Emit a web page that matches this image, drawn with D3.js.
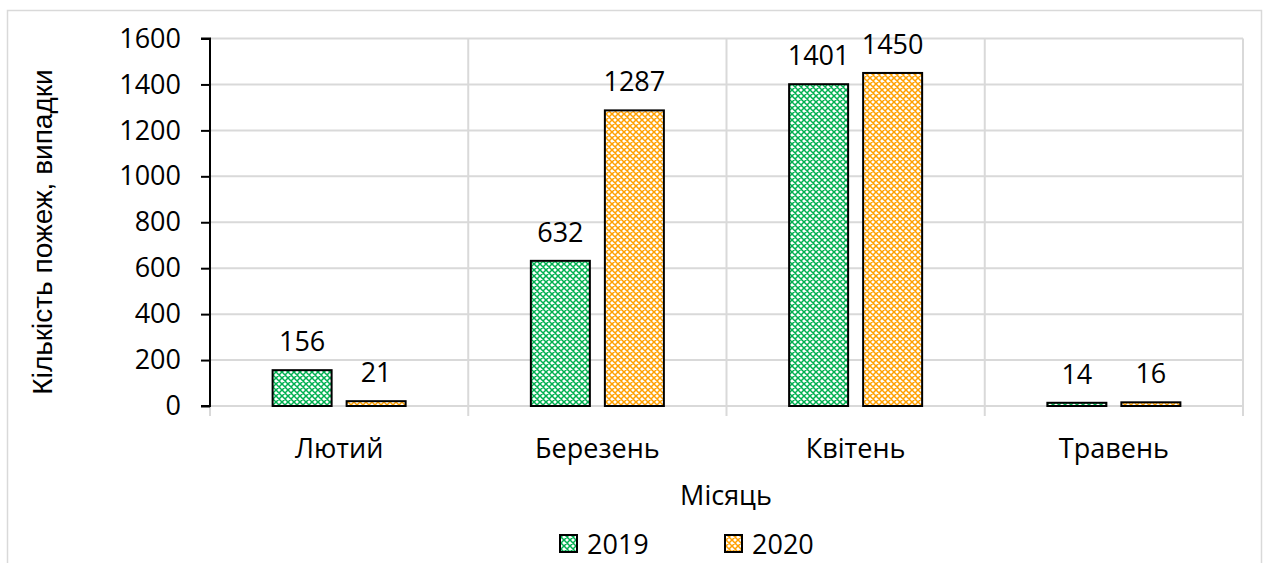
<!DOCTYPE html>
<html>
<head>
<meta charset="utf-8">
<script src="https://cdn.jsdelivr.net/npm/d3@7"></script>
<style>
  body { margin: 0; background: #fff; }
  text { font-family: "Open Sans", sans-serif; fill: #000; }
</style>
</head>
<body>
<script>
const months = ["Лютий", "Березень", "Квітень", "Травень"];
const years = ["2019", "2020"];
const fires2019 = [156, 632, 1401, 14];
const fires2020 = [21, 1287, 1450, 16];
const yTicks = [0, 200, 400, 600, 800, 1000, 1200, 1400, 1600];

const width = 1264, height = 563;
const plotLeft = 210, plotRight = 1243, plotTop = 38.5, plotBottom = 406;
const colors = {"2019": "#00b050", "2020": "#ffa000"};

var svg = d3.select("body")
            .append("svg")
            .attr("width", width)
            .attr("height", height);

// hatch patterns
var defs = svg.append("defs");
years.forEach((y) => {
    let p = defs.append("pattern")
        .attr("id", "pat" + y)
        .attr("patternUnits", "userSpaceOnUse")
        .attr("width", 6)
        .attr("height", 6);
    p.append("rect").attr("width", 6).attr("height", 6).attr("fill", "#fff");
    p.append("path")
        .attr("d", "M0,0 L6,6 M6,0 L0,6 M-1,5 L1,7 M5,-1 L7,1 M-1,1 L1,-1 M5,7 L7,5")
        .attr("stroke", colors[y])
        .attr("stroke-width", 1.5);
});

// chart border
svg.append("rect")
   .attr("x", 7.5).attr("y", 10.5)
   .attr("width", 1254).attr("height", 560)
   .attr("fill", "none")
   .attr("stroke", "#d9d9d9")
   .attr("stroke-width", 1.5);

var xScale = d3.scaleBand()
            .domain(months)
            .range([plotLeft, plotRight]);

var inner = d3.scaleBand()
            .domain(years)
            .range([0, xScale.bandwidth()])
            .paddingInner(0.2027)
            .paddingOuter(0.846);

var yScale = d3.scaleLinear()
            .domain([0, 1600])
            .range([plotBottom, plotTop]);

// horizontal gridlines
svg.append("g")
   .selectAll("line")
   .data(yTicks.slice(1))
   .enter()
   .append("line")
   .attr("x1", plotLeft).attr("x2", plotRight)
   .attr("y1", (d) => yScale(d)).attr("y2", (d) => yScale(d))
   .style("stroke", "#d9d9d9")
   .style("stroke-width", 2);

// vertical category separators
let seps = months.map((m) => xScale(m)).concat([plotRight]);
svg.append("g")
   .selectAll("line")
   .data(seps)
   .enter()
   .append("line")
   .attr("x1", (d) => d).attr("x2", (d) => d)
   .attr("y1", plotTop).attr("y2", plotBottom + 10)
   .style("stroke", "#d9d9d9")
   .style("stroke-width", 2);

// x axis line
svg.append("line")
   .attr("x1", plotLeft).attr("x2", plotRight)
   .attr("y1", plotBottom).attr("y2", plotBottom)
   .style("stroke", "#d9d9d9")
   .style("stroke-width", 2);

// y axis
var yAxis = d3.axisLeft()
            .scale(yScale)
            .tickValues(yTicks)
            .tickFormat(d3.format("d"))
            .tickSize(9)
            .tickPadding(20);

var gy = svg.append("g")
   .attr("transform", `translate(${plotLeft}, 0)`)
   .call(yAxis);
gy.select(".domain").attr("stroke", "#000").attr("stroke-width", 2).attr("d", `M-9,${plotTop}H0V${plotBottom}H-9`);
gy.selectAll(".tick line").attr("stroke", "#000").attr("stroke-width", 2);
gy.selectAll(".tick text").style("font-size", "27px").style("font-family", "Open Sans").attr("fill", "#000");

// bars
let series = [fires2019, fires2020];
years.forEach((y, si) => {
    let g = svg.append("g");
    g.selectAll("rect")
     .data(months)
     .enter()
     .append("rect")
     .attr("x", (m) => xScale(m) + inner(y))
     .attr("y", (m, i) => yScale(series[si][i]))
     .attr("width", inner.bandwidth())
     .attr("height", (m, i) => plotBottom - yScale(series[si][i]))
     .attr("fill", `url(#pat${y})`)
     .attr("stroke", "#000")
     .attr("stroke-width", 2);
    g.selectAll("text")
     .data(months)
     .enter()
     .append("text")
     .attr("x", (m) => xScale(m) + inner(y) + inner.bandwidth() / 2)
     .attr("y", (m, i) => yScale(series[si][i]) - 19)
     .attr("text-anchor", "middle")
     .style("font-size", "27px")
     .text((m, i) => series[si][i]);
});

// category labels
svg.append("g")
   .selectAll("text")
   .data(months)
   .enter()
   .append("text")
   .attr("x", (m) => xScale(m) + xScale.bandwidth() / 2)
   .attr("y", 458)
   .attr("text-anchor", "middle")
   .style("font-size", "27px")
   .text((m) => m);

// axis titles
svg.append("text")
   .attr("x", 726).attr("y", 505)
   .attr("text-anchor", "middle")
   .style("font-size", "27px")
   .text("Місяць");

svg.append("text")
   .attr("transform", "translate(52, 232) rotate(-90)")
   .attr("text-anchor", "middle")
   .style("font-family", "'Liberation Sans', Arial, sans-serif")
   .style("font-size", "28px")
   .text("Кількість пожеж, випадки");

// legend
let legendX = [560, 725];
years.forEach((y, i) => {
    svg.append("rect")
       .attr("x", legendX[i]).attr("y", 535)
       .attr("width", 17).attr("height", 17)
       .attr("fill", `url(#pat${y})`)
       .attr("stroke", "#000")
       .attr("stroke-width", 2);
    svg.append("text")
       .attr("x", legendX[i] + 27).attr("y", 554)
       .style("font-size", "27px")
       .text(y);
});
</script>
</body>
</html>
